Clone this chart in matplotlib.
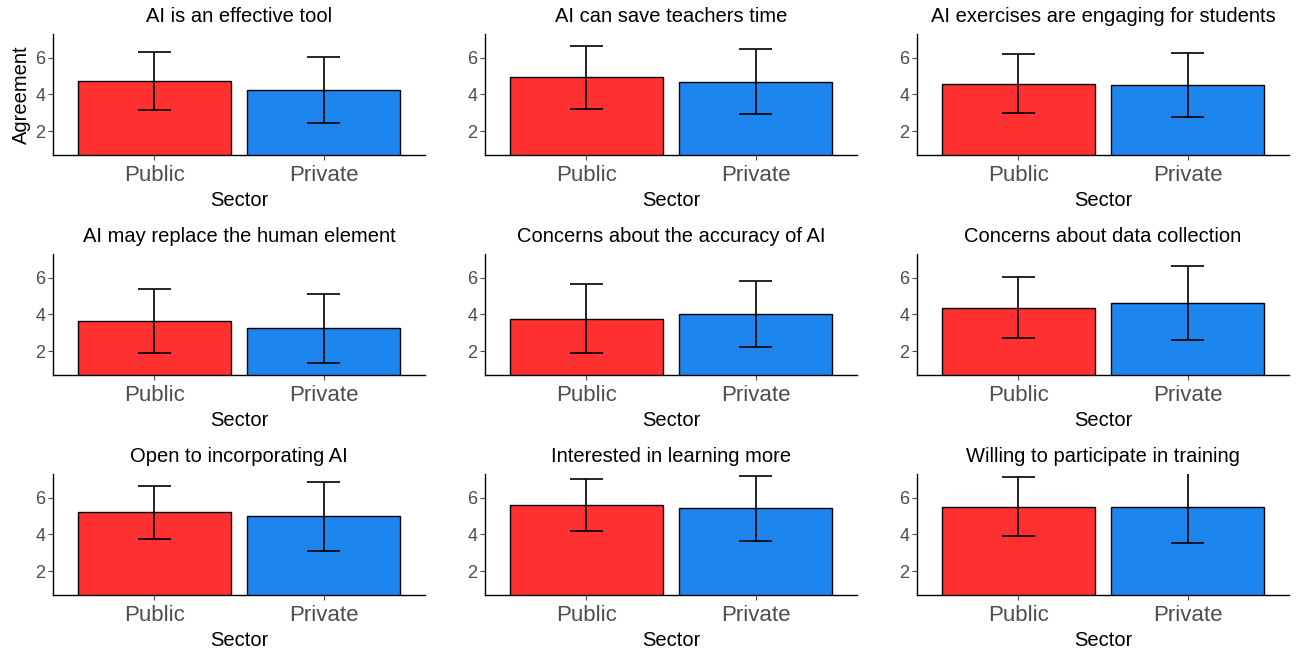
import matplotlib
matplotlib.use("Agg")
import matplotlib.pyplot as plt
import numpy as np

plt.rcParams['font.family'] = ['Liberation Sans', 'DejaVu Sans']

titles = [
    "AI is an effective tool",
    "AI can save teachers time",
    "AI exercises are engaging for students",
    "AI may replace the human element",
    "Concerns about the accuracy of AI",
    "Concerns about data collection",
    "Open to incorporating AI",
    "Interested in learning more",
    "Willing to participate in training",
]
sectors = ["Public", "Private"]
public_mean = [4.72, 4.93, 4.60, 3.65, 3.78, 4.38, 5.20, 5.59, 5.52]
public_sd = [1.58, 1.70, 1.62, 1.75, 1.90, 1.65, 1.45, 1.42, 1.62]
private_mean = [4.26, 4.70, 4.50, 3.25, 4.00, 4.62, 5.00, 5.42, 5.52]
private_sd = [1.80, 1.76, 1.74, 1.88, 1.80, 2.00, 1.88, 1.76, 1.96]
colors = ["#FF3030", "#1C86EE"]

W, H = 1297, 651
fig = plt.figure(figsize=(W / 100, H / 100), dpi=100)

lefts = [53, 485, 917]
tops = [34, 254, 474]
aw, ah = 372, 121

for i, title in enumerate(titles):
    r, c = divmod(i, 3)
    ax = fig.add_axes([lefts[c] / W, 1 - (tops[r] + ah) / H, aw / W, ah / H])
    means = [public_mean[i], private_mean[i]]
    sds = [public_sd[i], private_sd[i]]
    x = np.arange(1, 3)
    ax.bar(x, means, width=0.9, color=colors, edgecolor="black", linewidth=1.0, zorder=2)
    lo = [m - s for m, s in zip(means, sds)]
    hi = [m + s for m, s in zip(means, sds)]
    ax.vlines(x, lo, hi, color="black", linewidth=1.2, zorder=3)
    ax.hlines(lo, x - 0.1, x + 0.1, color="black", linewidth=1.2, zorder=3)
    ax.hlines(hi, x - 0.1, x + 0.1, color="black", linewidth=1.2, zorder=3)
    ax.set_xlim(0.4, 2.6)
    ax.set_ylim(0.7, 7.3)
    ax.set_xticks(x)
    ax.set_xticklabels(sectors)
    ax.set_yticks([2, 4, 6])
    ax.tick_params(axis="x", labelsize=16, colors="#4D4D4D", length=3.5, width=0.8, pad=3.5)
    ax.tick_params(axis="y", labelsize=13, colors="#4D4D4D", length=3.5, width=0.8, pad=2)
    for sp in ["top", "right"]:
        ax.spines[sp].set_visible(False)
    for sp in ["left", "bottom"]:
        ax.spines[sp].set_linewidth(1.0)
        ax.spines[sp].set_color("black")
    ax.set_title(title, fontsize=14.5, color="black", pad=8.5)
    ax.set_xlabel("Sector", fontsize=14.5, color="black", labelpad=3.6)
    if i == 0:
        ax.set_ylabel("Agreement", fontsize=14.5, color="black", labelpad=3)

fig.savefig("out.png", dpi=100)
